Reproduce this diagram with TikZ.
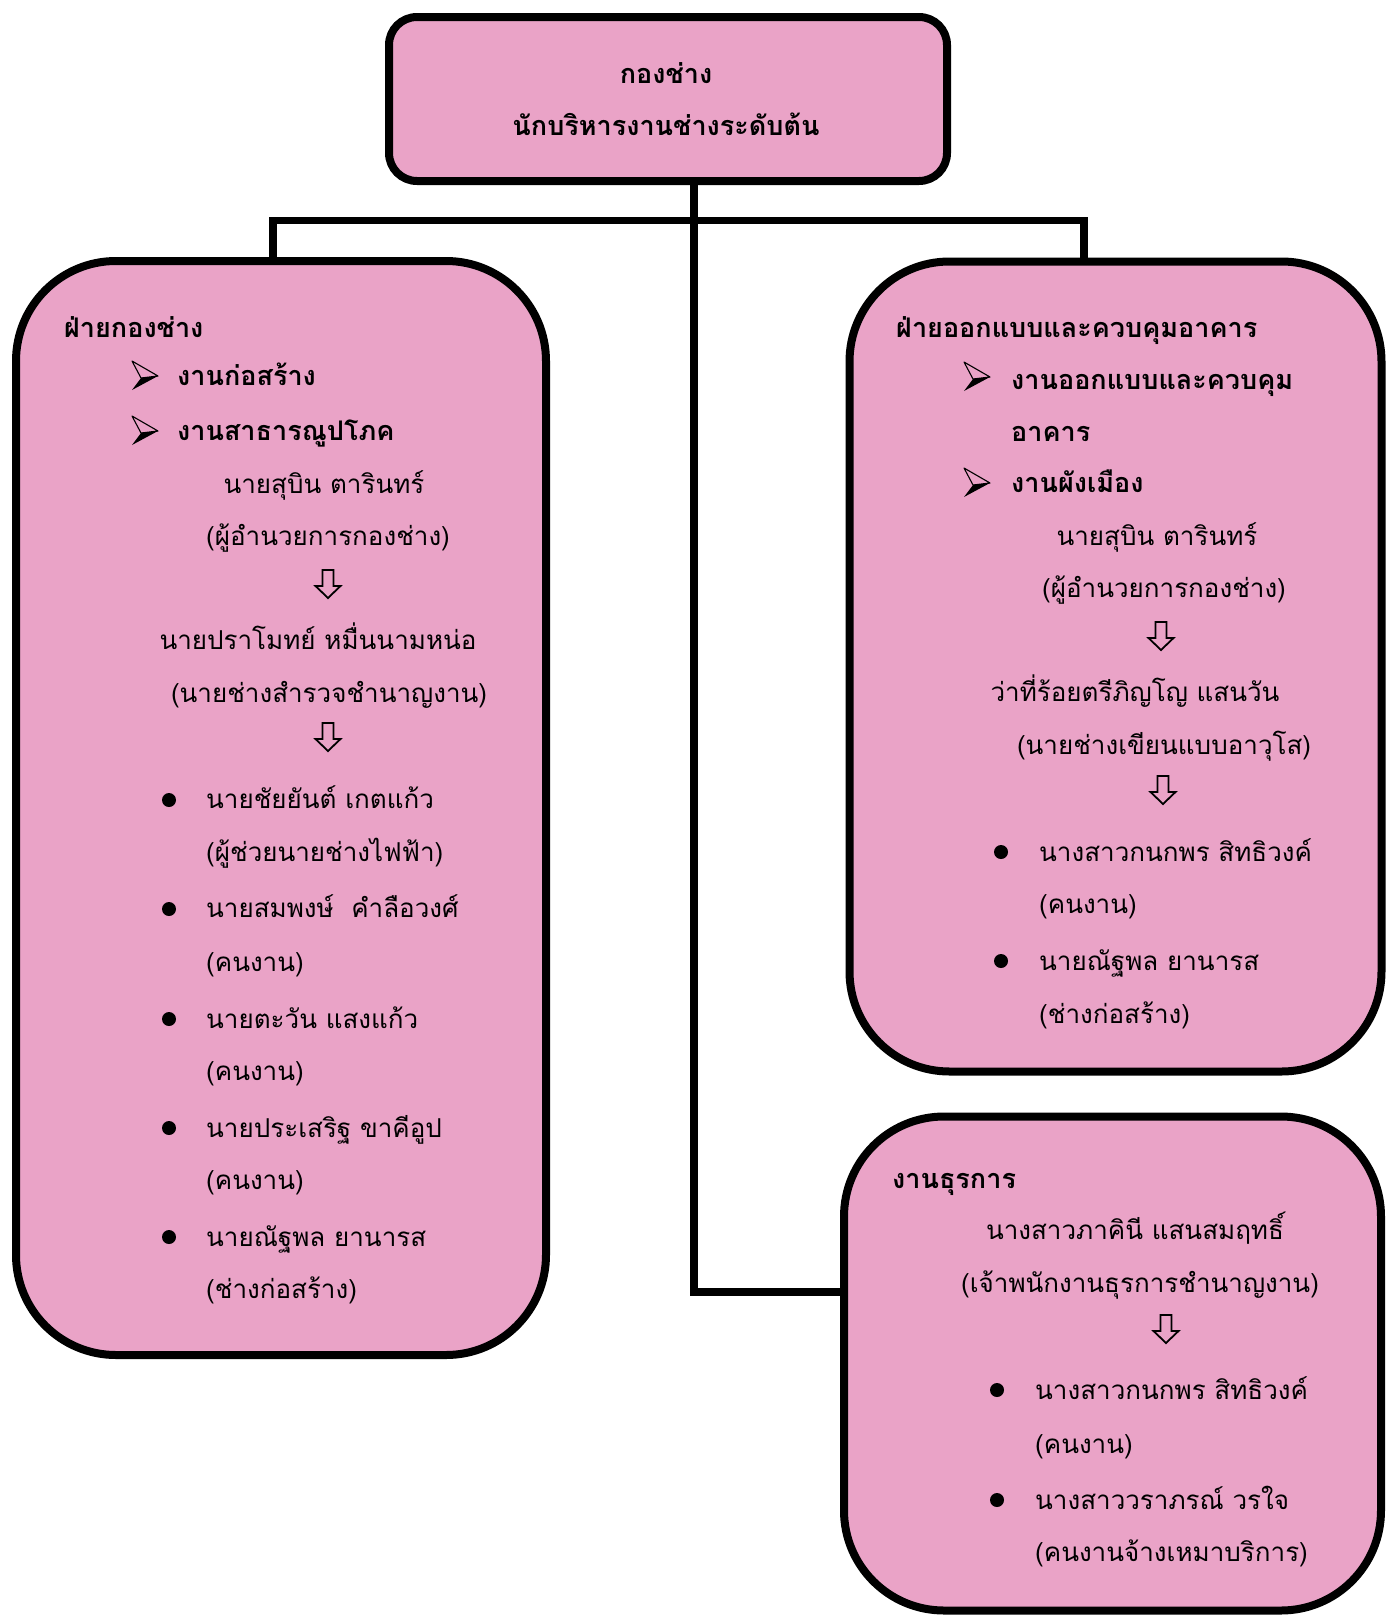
\documentclass[tikz,border=0pt]{standalone}
\usepackage{fontspec}
\newfontfamily\thai[Script=Thai]{Loma}
\definecolor{boxpink}{RGB}{234,163,199}
\begin{document}
\begin{tikzpicture}[x=1pt,y=-1pt,
  orgbox/.style={draw=black, line width=8pt, fill=boxpink, rounded corners=#1, inner sep=0pt},
  conn/.style={draw=black, line width=7.5pt, line join=miter},
  txt/.style={font=\thai\fontsize{26}{30}\selectfont, inner sep=0pt},
  btxt/.style={font=\thai\bfseries\fontsize{27}{31}\selectfont, inner sep=0pt},
  dnarr/.pic={\draw[line width=1.8pt, fill=boxpink] (-5.5,-14) -- (-5.5,2) -- (-12.5,2) -- (0,14) -- (12.5,2) -- (5.5,2) -- (5.5,-14) -- cycle;},
  harr/.pic={\draw[line width=1.1pt, line join=round, fill=boxpink] (0,-15) -- (26,0) -- (9,2) -- cycle;
             \fill[black] (9,2) -- (26,0) -- (0,14) -- cycle;},
  dot/.pic={\fill[black] (0,0) circle (7);}
]
\useasboundingbox (0,0) rectangle (1387,1617);

% boxes
\node[orgbox=28pt, minimum width=558pt, minimum height=164pt] (top) at (668,99) {};
\node[orgbox=100pt, minimum width=530pt, minimum height=1094pt] (L) at (281,808) {};
\node[orgbox=100pt, minimum width=532pt, minimum height=810pt] (R1) at (1115.5,666.5) {};
\node[orgbox=100pt, minimum width=537pt, minimum height=494pt] (R2) at (1112.5,1363.5) {};

% connectors
\coordinate (vx) at (694,0);
\coordinate (lx) at (273,0);
\coordinate (rx) at (1084,0);
\coordinate (by) at (0,220.5);
\coordinate (jy) at (0,1292);
\draw[conn] (vx |- top.south) -- (vx |- jy) -- (R2.west |- jy);
\draw[conn] (lx |- L.north) -- (lx |- by) -- (rx |- by) -- (rx |- R1.north);

% top box text
\node[btxt, anchor=base] (t1) at (666,83) {กองช่าง};
\node[btxt, anchor=base] (t2) at (666,135) {นักบริหารงานช่างระดับต้น};

% left box
\node[btxt, anchor=base west] (l0) at (64,337) {ฝ่ายกองช่าง};
\pic at (132,376) {harr};
\node[btxt, anchor=base west] (l1) at (177,385) {งานก่อสร้าง};
\pic at (132,431) {harr};
\node[btxt, anchor=base west] (l2) at (177,440) {งานสาธารณูปโภค};
\node[txt, anchor=base] (l3) at (324,493) {นายสุบิน ตารินทร์};
\node[txt, anchor=base] (l4) at (328,545) {(ผู้อำนวยการกองช่าง)};
\pic at (328,584) {dnarr};
\node[txt, anchor=base] (l5) at (318,649) {นายปราโมทย์ หมื่นนามหน่อ};
\node[txt, anchor=base] (l6) at (329,702) {(นายช่างสำรวจชำนาญงาน)};
\pic at (328,737) {dnarr};
\pic at (169,800) {dot};
\node[txt, anchor=base west] (l7) at (206,808) {นายชัยยันต์ เกตแก้ว};
\node[txt, anchor=base west] (l8) at (206,861) {(ผู้ช่วยนายช่างไฟฟ้า)};
\pic at (169,909) {dot};
\node[txt, anchor=base west] (l9) at (206,917) {นายสมพงษ์~~คำลือวงศ์};
\node[txt, anchor=base west] (l10) at (206,971) {(คนงาน)};
\pic at (169,1019) {dot};
\node[txt, anchor=base west] (l11) at (206,1028) {นายตะวัน แสงแก้ว};
\node[txt, anchor=base west] (l12) at (206,1080) {(คนงาน)};
\pic at (169,1128) {dot};
\node[txt, anchor=base west] (l13) at (206,1137) {นายประเสริฐ ขาคีอูป};
\node[txt, anchor=base west] (l14) at (206,1189) {(คนงาน)};
\pic at (169,1237) {dot};
\node[txt, anchor=base west] (l15) at (206,1246) {นายณัฐพล ยานารส};
\node[txt, anchor=base west] (l16) at (206,1298) {(ช่างก่อสร้าง)};

% right box 1
\node[btxt, anchor=base west] (r0) at (896,337) {ฝ่ายออกแบบและควบคุมอาคาร};
\pic at (964,377) {harr};
\node[btxt, anchor=base west] (r1) at (1011,389) {งานออกแบบและควบคุม};
\node[btxt, anchor=base west] (r2) at (1011,441) {อาคาร};
\pic at (964,483) {harr};
\node[btxt, anchor=base west] (r3) at (1011,492) {งานผังเมือง};
\node[txt, anchor=base] (r4) at (1157,545) {นายสุบิน ตารินทร์};
\node[txt, anchor=base] (r5) at (1164,597) {(ผู้อำนวยการกองช่าง)};
\pic at (1161,636) {dnarr};
\node[txt, anchor=base] (r6) at (1135,701) {ว่าที่ร้อยตรีภิญโญ แสนวัน};
\node[txt, anchor=base] (r7) at (1164,754) {(นายช่างเขียนแบบอาวุโส)};
\pic at (1163,790) {dnarr};
\pic at (1001,852) {dot};
\node[txt, anchor=base west] (r8) at (1039,861) {นางสาวกนกพร สิทธิวงค์};
\node[txt, anchor=base west] (r9) at (1039,913) {(คนงาน)};
\pic at (1001,961) {dot};
\node[txt, anchor=base west] (r10) at (1039,970) {นายณัฐพล ยานารส};
\node[txt, anchor=base west] (r11) at (1039,1023) {(ช่างก่อสร้าง)};

% right box 2
\node[btxt, anchor=base west] (s0) at (892,1188) {งานธุรการ};
\node[txt, anchor=base] (s1) at (1135,1239) {นางสาวภาคินี แสนสมฤทธิ์};
\node[txt, anchor=base] (s2) at (1140,1292) {(เจ้าพนักงานธุรการชำนาญงาน)};
\pic at (1166,1329) {dnarr};
\pic at (997,1390) {dot};
\node[txt, anchor=base west] (s3) at (1035,1399) {นางสาวกนกพร สิทธิวงค์};
\node[txt, anchor=base west] (s4) at (1035,1453) {(คนงาน)};
\pic at (997,1500) {dot};
\node[txt, anchor=base west] (s5) at (1035,1509) {นางสาววราภรณ์ วรใจ};
\node[txt, anchor=base west] (s6) at (1035,1561) {(คนงานจ้างเหมาบริการ)};
\end{tikzpicture}
\end{document}
